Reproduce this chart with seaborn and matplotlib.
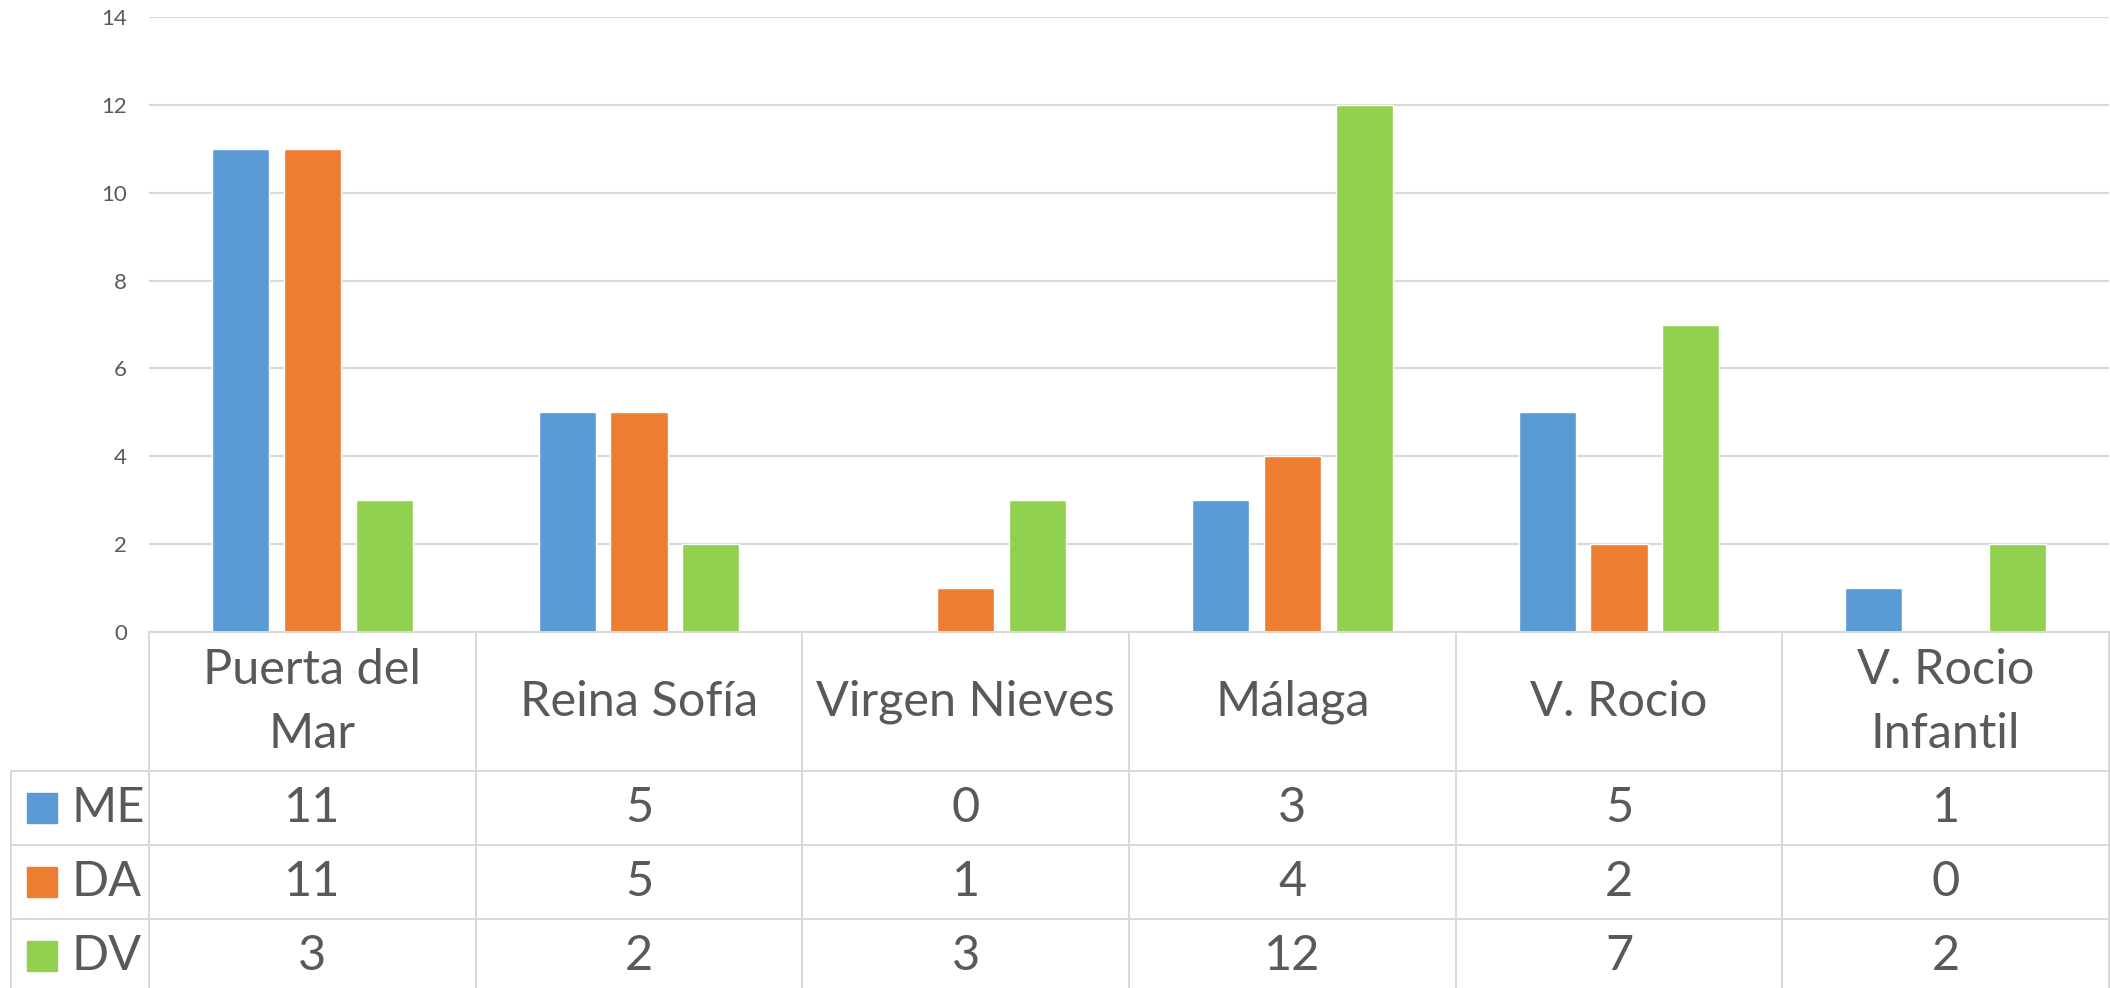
import matplotlib
matplotlib.use("Agg")
import matplotlib.pyplot as plt
import seaborn as sns
import pandas as pd
from matplotlib import transforms
from matplotlib.lines import Line2D
from matplotlib.patches import Rectangle

# ---- data ----
categories = ["Puerta del Mar", "Reina Sofía", "Virgen Nieves", "Málaga", "V. Rocio", "V. Rocio Infantil"]
header_labels = ["Puerta del\nMar", "Reina Sofía", "Virgen Nieves", "Málaga", "V. Rocio", "V. Rocio\nInfantil"]
series = ["ME", "DA", "DV"]
me_values = [11, 5, 0, 3, 5, 1]
da_values = [11, 5, 1, 4, 2, 0]
dv_values = [3, 2, 3, 12, 7, 2]
colors = ["#5B9BD5", "#ED7D31", "#92D050"]
yticks = [0, 2, 4, 6, 8, 10, 12, 14]

sns.set_theme(style="white")
plt.rcParams['font.family'] = ['Lato', 'DejaVu Sans']

TEXT = "#595959"
GRID = "#D9D9D9"
W, H = 2110, 988
fig = plt.figure(figsize=(W / 100, H / 100), dpi=100)
x0, x1 = 149, 2109
ytop, ybase = 17, 632
ax = fig.add_axes([x0 / W, 1 - ybase / H, (x1 - x0) / W, (ybase - ytop) / H])

values_by_series = [me_values, da_values, dv_values]
df = pd.DataFrame({
    "Hospital": categories * len(series),
    "Serie": [s for s in series for _ in categories],
    "Valor": me_values + da_values + dv_values,
})
sns.barplot(data=df, x="Hospital", y="Valor", hue="Serie", order=categories,
            hue_order=series, palette=colors, width=0.661, gap=0.208,
            saturation=1, errorbar=None, legend=False, ax=ax, zorder=3)

ax.set_xlim(-0.5, len(categories) - 0.5)
ax.set_ylim(0, 14)
ax.set_yticks(yticks)
ax.set_xticks([])
ax.set_xlabel("")
ax.set_ylabel("")
for sp in ax.spines.values():
    sp.set_visible(False)
ax.yaxis.grid(True, color=GRID, lw=1.6)
ax.set_axisbelow(True)
ax.tick_params(axis="y", labelsize=16, labelcolor=TEXT, length=0, pad=16)

lw = 2.0 * 72 / 100


def fy(y):
    return 1 - y / H


blend = transforms.blended_transform_factory(ax.transData, fig.transFigure)

# horizontal table lines
fig.add_artist(Line2D([x0 / W, x1 / W], [fy(632)] * 2, color=GRID, lw=lw, transform=fig.transFigure))
for y in [771, 845, 919]:
    fig.add_artist(Line2D([11 / W, x1 / W], [fy(y)] * 2, color=GRID, lw=lw, transform=fig.transFigure))
# vertical table lines
for k in range(len(categories) + 1):
    fig.add_artist(Line2D([k - 0.5, k - 0.5], [fy(632), 0], color=GRID, lw=lw, transform=blend))
fig.add_artist(Line2D([11 / W, 11 / W], [fy(771), 0], color=GRID, lw=lw, transform=fig.transFigure))

# header labels
for i, lab in enumerate(header_labels):
    fig.text(i, fy(702), lab, transform=blend, ha="center", va="center",
             fontsize=35, color=TEXT, linespacing=1.55)

# rows
row_centers = [808, 882, 956]
for r, (name, vals, col) in enumerate(zip(series, values_by_series, colors)):
    c = row_centers[r]
    fig.add_artist(Rectangle((27 / W, fy(c + 15)), 30 / W, 30 / H, color=col,
                             transform=fig.transFigure))
    fig.text(71 / W, fy(c), name, transform=fig.transFigure, ha="left", va="center",
             fontsize=35, color=TEXT)
    for i, v in enumerate(vals):
        fig.text(i, fy(c), str(v), transform=blend, ha="center", va="center",
                 fontsize=35, color=TEXT)

fig.savefig("out.png", dpi=100)
